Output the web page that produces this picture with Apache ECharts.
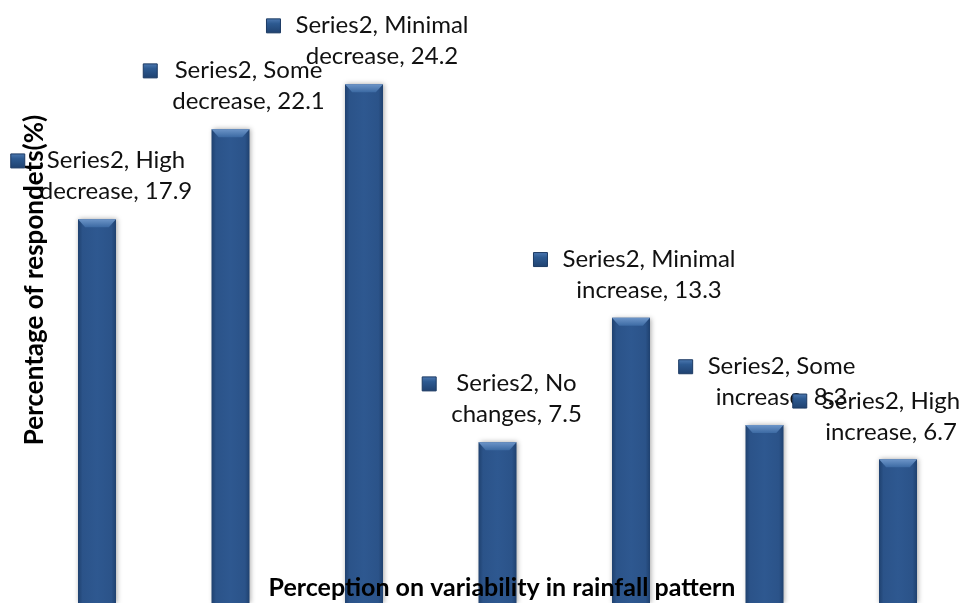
<!DOCTYPE html>
<html>
<head>
<meta charset="utf-8">
<script src="https://cdn.jsdelivr.net/npm/echarts@6/dist/echarts.min.js"></script>
<style>
  html, body { margin: 0; padding: 0; background: #ffffff; }
  #chart { width: 974px; height: 603px; }
</style>
</head>
<body>
<div id="chart"></div>
<script>
// Survey: perception of variability in rainfall pattern
const seriesName = 'Series2';
const categories = ['High decrease', 'Some decrease', 'Minimal decrease', 'No changes',
                    'Minimal increase', 'Some increase', 'High increase'];
const values = [17.9, 22.1, 24.2, 7.5, 13.3, 8.3, 6.7];
const yTitle = 'Percentage of respondets(%)';
const xTitle = 'Perception on variability in rainfall pattern';

// horizontal shift of each data label from its bar centre
const labelShiftX = [19, 18, 18, 19, 18, 17, -7];

const FONT = 'Lato, "Open Sans", sans-serif';
const LABEL_SIZE = 24;
const LINE_H = 31;
const LABEL_DY = -12;      // gap between label block and bar top
const BAR_W = 38;
const BEVEL = 8;
const KEY = 14;            // legend key square
const KEY_GAP = 15;

function labelLines(name, value) {
  const words = name.split(' ');
  return [seriesName + ', ' + words[0], words.slice(1).join(' ') + ', ' + value];
}

// text measuring for placing the legend key left of each label
const measureCtx = document.createElement('canvas').getContext('2d');
measureCtx.font = LABEL_SIZE + 'px ' + FONT;
function textWidth(s) { return measureCtx.measureText(s).width; }

const chart = echarts.init(document.getElementById('chart'), null, { renderer: 'canvas' });

chart.setOption({
  animation: false,
  backgroundColor: '#ffffff',
  grid: { left: 30.25, right: 9.25, top: 67, bottom: 0, containLabel: false },
  xAxis: { type: 'category', data: categories, show: false },
  yAxis: { type: 'value', min: 0, max: 25, show: false },
  series: [
    {
      name: seriesName,
      type: 'bar',
      barWidth: BAR_W,
      data: values.map((v, i) => ({
        value: v,
        label: { offset: [labelShiftX[i], LABEL_DY] }
      })),
      itemStyle: {
        color: new echarts.graphic.LinearGradient(0, 0, 1, 0, [
          { offset: 0, color: '#1f416f' },
          { offset: 0.12, color: '#2b5389' },
          { offset: 0.5, color: '#2e5890' },
          { offset: 0.88, color: '#2b5389' },
          { offset: 1, color: '#1f416f' }
        ]),
        shadowBlur: 5,
        shadowColor: 'rgba(0,0,0,0.35)',
        shadowOffsetX: 1
      },
      label: {
        show: true,
        position: 'top',
        distance: 0,
        formatter: p => labelLines(p.name, p.value).join('\n'),
        fontFamily: FONT,
        fontSize: LABEL_SIZE,
        lineHeight: LINE_H,
        color: '#111111',
        align: 'center'
      },
      z: 2
    },
    {
      // raised top face on each bar plus the legend key beside each label
      type: 'custom',
      silent: true,
      z: 4,
      data: values.map((v, i) => [i, v]),
      renderItem: (params, api) => {
        const i = params.dataIndex;
        const top = api.coord([api.value(0), api.value(1)]);
        const x0 = top[0] - BAR_W / 2;
        const x1 = top[0] + BAR_W / 2;
        const y = top[1];
        const lines = labelLines(categories[i], values[i]);
        const boxW = Math.max(textWidth(lines[0]), textWidth(lines[1]));
        const cx = top[0] + labelShiftX[i];
        const line1Base = y + LABEL_DY - (LINE_H / 2 - 0.3 * LABEL_SIZE) - LINE_H;
        const keyX = cx - boxW / 2 - KEY_GAP - KEY;
        return {
          type: 'group',
          children: [
            {
              type: 'polygon',
              shape: { points: [[x0, y], [x1, y], [x1 - BEVEL * 0.9, y + BEVEL], [x0 + BEVEL * 0.9, y + BEVEL]] },
              style: {
                fill: new echarts.graphic.LinearGradient(0, 0, 0, 1, [
                  { offset: 0, color: '#6d95c8' },
                  { offset: 1, color: '#3c6aa3' }
                ])
              }
            },
            {
              type: 'rect',
              shape: { x: keyX, y: line1Base - KEY, width: KEY, height: KEY },
              style: {
                fill: new echarts.graphic.LinearGradient(0, 0, 0, 1, [
                  { offset: 0, color: '#4f7bb3' },
                  { offset: 0.35, color: '#2d5a91' },
                  { offset: 1, color: '#1f416f' }
                ]),
                stroke: '#1c3a63',
                lineWidth: 1
              }
            }
          ]
        };
      }
    }
  ],
  graphic: [
    {
      type: 'text',
      x: 35,
      y: 280,
      rotation: Math.PI / 2,
      z: 100,
      style: {
        text: yTitle,
        font: 'bold 26px ' + FONT,
        fill: '#000000',
        textAlign: 'center',
        textVerticalAlign: 'middle'
      }
    },
    {
      type: 'text',
      x: 502,
      y: 588,
      z: 100,
      style: {
        text: xTitle,
        font: 'bold 25px ' + FONT,
        fill: '#000000',
        textAlign: 'center',
        textVerticalAlign: 'middle'
      }
    }
  ]
});
</script>
</body>
</html>
